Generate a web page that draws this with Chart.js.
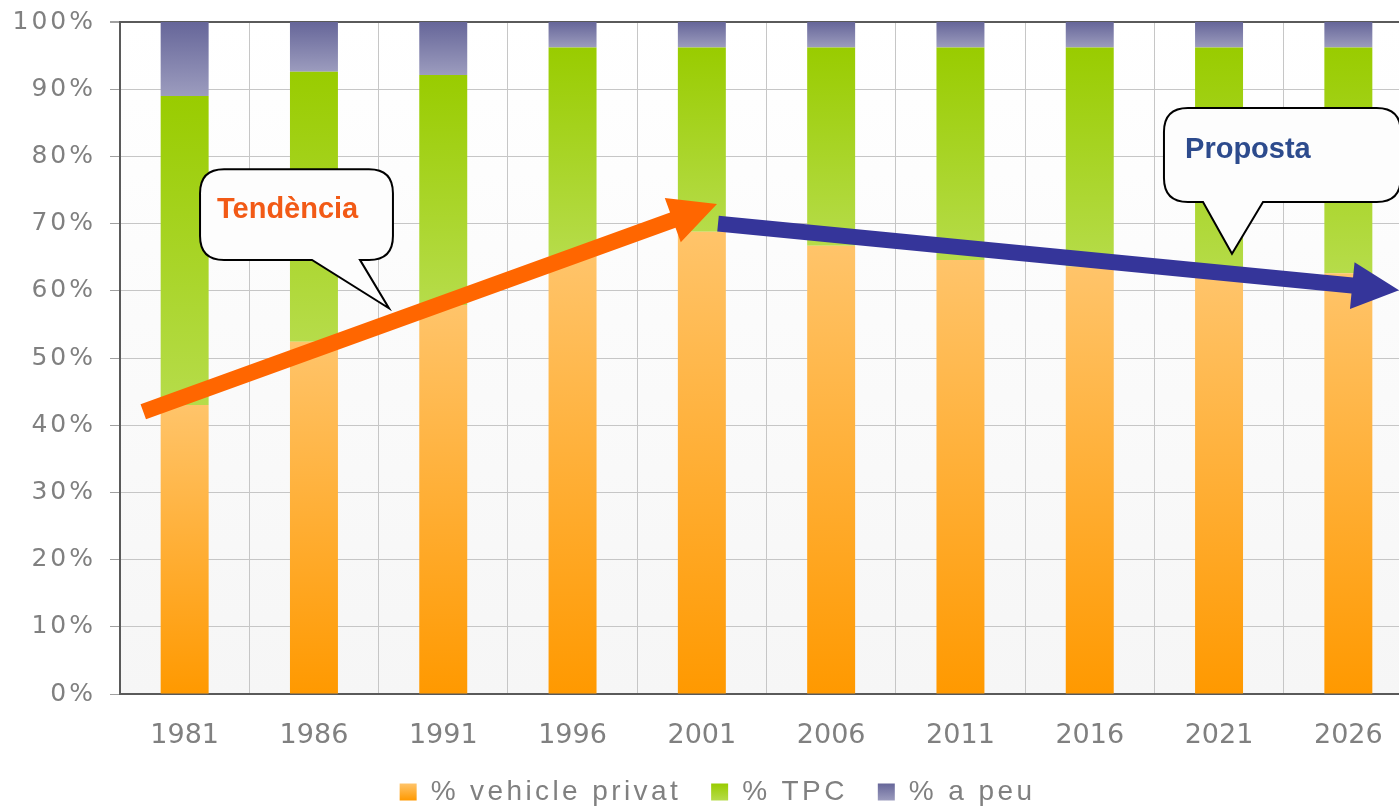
<!DOCTYPE html>
<html>
<head>
<meta charset="utf-8">
<script src="https://cdn.jsdelivr.net/npm/chart.js@4.4.1/dist/chart.umd.min.js"></script>
<style>
html,body{margin:0;padding:0;background:#ffffff;overflow:hidden;width:1399px;height:809px}
#wrap{width:1413px;height:809px}
canvas{display:block}
</style>
</head>
<body>
<div id="wrap"><canvas id="c" width="1413" height="809"></canvas></div>
<script>
// ---- data ----
const years = ['1981','1986','1991','1996','2001','2006','2011','2016','2021','2026'];
const vehiclePrivat = [43.0, 52.4, 57.9, 65.1, 68.8, 66.7, 64.6, 63.6, 61.9, 62.6];
const tpc           = [46.0, 40.2, 34.2, 31.1, 27.4, 29.5, 31.6, 32.6, 34.3, 33.6];
const aPeu          = [11.0,  7.4,  7.9,  3.8,  3.8,  3.8,  3.8,  3.8,  3.8,  3.8];
const seriesNames = ['% vehicle privat', '% TPC', '% a peu'];
const yTickLabels = ['0%','10%','20%','30%','40%','50%','60%','70%','80%','90%','100%'];
// annotation arrows (category index, percent)
const trendFrom = [-0.32, 42.0];
const trendTo = [4.117, 72.9];
const proposalFrom = [4.125, 70.0];
const proposalTo = [9.392, 60.1];
const trendLabel = 'Tendència';
const proposalLabel = 'Proposta';

const seriesValues = [vehiclePrivat, tpc, aPeu];
const palettes = [
  ['#FFC46A', '#FF9900'],
  ['#99CC00', '#B6DC4A'],
  ['#666699', '#9C9CBE']
];

function segGradient(ctx, dsIndex) {
  const pal = palettes[dsIndex];
  const chart = ctx.chart;
  const ys = chart.scales && chart.scales.y;
  if (!chart.chartArea || !ys || ctx.dataIndex === undefined) return pal[1];
  const i = ctx.dataIndex;
  let base = 0;
  for (let d = 0; d < dsIndex; d++) base += seriesValues[d][i];
  const top = base + seriesValues[dsIndex][i];
  const y0 = ys.getPixelForValue(top), y1 = ys.getPixelForValue(base);
  const g = chart.ctx.createLinearGradient(0, y0, 0, y1);
  g.addColorStop(0, pal[0]);
  g.addColorStop(1, pal[1]);
  return g;
}

const LEGEND_H = 61;
const LEGEND_PAD = 30;
const LEGEND_FONT = 28;
const LEGEND_BOX = 17;
const LEGEND_DX = 11;
const LEGEND_LS = '3.4px';

// callout geometry in data units
const callouts = [
  {text: trendLabel, left: 0.119, right: 1.611, top: 78.1, bottom: 64.6,
   baseL: 0.985, baseR: 1.356, tipX: 1.580, tipY: 57.4, textX: 0.25, textY: 70.83, color: '#F25A16'},
  {text: proposalLabel, left: 7.574, right: 9.405, top: 87.2, bottom: 73.2,
   baseL: 7.876, baseR: 8.340, tipX: 8.100, tipY: 65.5, textX: 7.737, textY: 79.7, color: '#2D4B8D'}
];
const arrows = [
  {from: trendFrom, to: trendTo, color: '#FF6600'},
  {from: proposalFrom, to: proposalTo, color: '#35359A'}
];

function drawCallout(ctx, c, px, py) {
  const x0 = px(c.left), x1 = px(c.right), y0 = py(c.top), y1 = py(c.bottom);
  const r = 24;
  ctx.beginPath();
  ctx.moveTo(x0 + r, y0);
  ctx.lineTo(x1 - r, y0);
  ctx.quadraticCurveTo(x1, y0, x1, y0 + r);
  ctx.lineTo(x1, y1 - r);
  ctx.quadraticCurveTo(x1, y1, x1 - r, y1);
  ctx.lineTo(px(c.baseR), y1);
  ctx.lineTo(px(c.tipX), py(c.tipY));
  ctx.lineTo(px(c.baseL), y1);
  ctx.lineTo(x0 + r, y1);
  ctx.quadraticCurveTo(x0, y1, x0, y1 - r);
  ctx.lineTo(x0, y0 + r);
  ctx.quadraticCurveTo(x0, y0, x0 + r, y0);
  ctx.closePath();
  ctx.fillStyle = '#fdfdfd';
  ctx.fill();
  ctx.lineWidth = 2;
  ctx.strokeStyle = '#000000';
  ctx.lineJoin = 'miter';
  ctx.stroke();
  ctx.fillStyle = c.color;
  ctx.font = 'bold 29px "Liberation Sans", Arial, sans-serif';
  ctx.textAlign = 'left';
  ctx.textBaseline = 'alphabetic';
  ctx.fillText(c.text, px(c.textX), py(c.textY));
}

function drawArrow(ctx, a, px, py) {
  const x0 = px(a.from[0]), y0 = py(a.from[1]);
  const x1 = px(a.to[0]), y1 = py(a.to[1]);
  const dx = x1 - x0, dy = y1 - y0, len = Math.hypot(dx, dy);
  const ux = dx / len, uy = dy / len, nx = -uy, ny = ux;
  const w = 8, W = 23.5, L = 47;
  const bx = x1 - ux * L, by = y1 - uy * L;
  ctx.beginPath();
  ctx.moveTo(x0 + nx * w, y0 + ny * w);
  ctx.lineTo(bx + nx * w, by + ny * w);
  ctx.lineTo(bx + nx * W, by + ny * W);
  ctx.lineTo(x1, y1);
  ctx.lineTo(bx - nx * W, by - ny * W);
  ctx.lineTo(bx - nx * w, by - ny * w);
  ctx.lineTo(x0 - nx * w, y0 - ny * w);
  ctx.closePath();
  ctx.fillStyle = a.color;
  ctx.fill();
}

const decor = {
  id: 'decor',
  afterInit(chart) {
    const lg = chart.legend;
    if (lg) {
      const of = lg.fit;
      lg.fit = function () {
        const c = this.ctx; c.save(); c.letterSpacing = LEGEND_LS;
        of.call(this);
        c.restore();
        this.height = LEGEND_H;
      };
      const od = lg.draw;
      lg.draw = function () {
        const c = this.ctx; c.save(); c.letterSpacing = LEGEND_LS; c.translate(LEGEND_DX, 0); od.call(this); c.restore();
      };
    }
  },
  afterUpdate(chart) {
    const ys = chart.scales.y;
    if (ys && !ys.__ls) {
      const o = ys.drawLabels;
      ys.drawLabels = function (a) {
        const c = this.ctx; c.save(); c.letterSpacing = '3px'; o.call(this, a); c.restore();
      };
      ys.__ls = true;
    }
  },
  beforeDraw(chart) {
    const {ctx, chartArea: a} = chart;
    const g = ctx.createLinearGradient(0, a.top, 0, a.bottom);
    g.addColorStop(0, '#ffffff');
    g.addColorStop(1, '#f6f6f6');
    ctx.save();
    ctx.fillStyle = g;
    ctx.fillRect(a.left, a.top, a.right - a.left, a.bottom - a.top);
    ctx.restore();
  },
  afterDatasetsDraw(chart) {
    const ctx = chart.ctx;
    const xs = chart.scales.x, ys = chart.scales.y;
    const px = v => xs.getPixelForValue(v);
    const py = v => ys.getPixelForValue(v);
    ctx.save();
    callouts.forEach(c => drawCallout(ctx, c, px, py));
    arrows.forEach(a => drawArrow(ctx, a, px, py));
    ctx.restore();
  }
};

const datasets = seriesNames.map((name, d) => ({
  label: name,
  data: seriesValues[d],
  backgroundColor: (ctx) => segGradient(ctx, d),
  borderWidth: 0,
  categoryPercentage: 1.0,
  barPercentage: 0.371
}));

new Chart(document.getElementById('c'), {
  type: 'bar',
  data: {labels: years, datasets},
  plugins: [decor],
  options: {
    responsive: false,
    animation: false,
    devicePixelRatio: 1,
    layout: {padding: {top: 22, left: 0, right: 0, bottom: 0}},
    plugins: {
      tooltip: {enabled: false},
      legend: {
        position: 'bottom',
        labels: {
          boxWidth: LEGEND_BOX,
          boxHeight: LEGEND_BOX,
          padding: LEGEND_PAD,
          color: '#808080',
          font: {family: '"Liberation Sans", Arial, sans-serif', size: LEGEND_FONT},
          generateLabels(chart) {
            const top = chart.height - LEGEND_H + LEGEND_PAD + (LEGEND_FONT - LEGEND_BOX) / 2;
            return chart.data.datasets.map((ds, i) => {
              const g = chart.ctx.createLinearGradient(0, top, 0, top + LEGEND_BOX);
              g.addColorStop(0, palettes[i][0]);
              g.addColorStop(1, palettes[i][1]);
              return {text: ds.label, fillStyle: g, strokeStyle: 'rgba(0,0,0,0)', lineWidth: 0,
                      hidden: false, datasetIndex: i, fontColor: '#808080'};
            });
          }
        }
      }
    },
    scales: {
      x: {
        stacked: true,
        offset: true,
        afterFit: (s) => { s.height = 809 - 694 - LEGEND_H; s.paddingLeft = 0; s.paddingRight = 0; },
        grid: {offset: true, color: '#c6c6c6', lineWidth: 1, drawTicks: false},
        border: {color: '#5a5a5a', width: 2},
        ticks: {color: '#808080', padding: 26,
                font: {family: '"DejaVu Sans", sans-serif', size: 27}}
      },
      y: {
        stacked: true,
        min: 0, max: 100,
        afterFit: (s) => { s.width = 120; s.paddingTop = 0; s.paddingBottom = 0; },
        grid: {
          color: (c) => (c.tick && c.tick.value === 100) ? '#5a5a5a' : '#c6c6c6',
          lineWidth: (c) => (c.tick && c.tick.value === 100) ? 2 : 1,
          tickColor: '#a0a0a0',
          tickLength: 10,
          drawTicks: true
        },
        border: {color: '#5a5a5a', width: 2},
        ticks: {
          stepSize: 10,
          color: '#808080',
          padding: 14,
          font: {family: '"DejaVu Sans", sans-serif', size: 25},
          callback: (v, idx) => yTickLabels[idx]
        }
      }
    }
  }
});
</script>
</body>
</html>
